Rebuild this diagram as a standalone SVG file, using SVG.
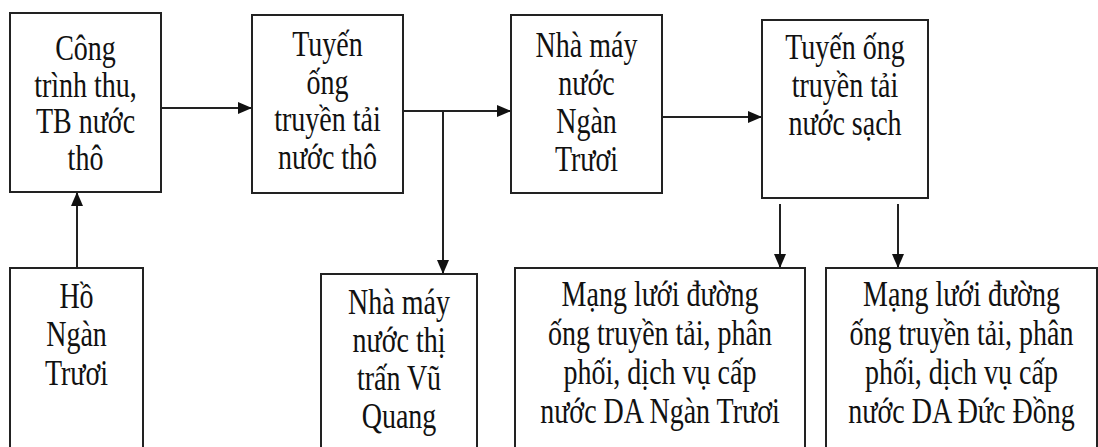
<svg xmlns="http://www.w3.org/2000/svg" width="1098" height="447" viewBox="0 0 1098 447">
<style>
.box{fill:#fff;stroke:#222;stroke-width:2}
.t{font-family:"Liberation Serif","Times New Roman",serif;font-size:35px;fill:#111;text-anchor:middle}
.c{fill:none;stroke:#222;stroke-width:2}
</style>
<defs>
<marker id="ah" viewBox="0 0 14 12" refX="14" refY="6" markerWidth="14" markerHeight="12" markerUnits="userSpaceOnUse" orient="auto">
<path d="M0,0 L14,6 L0,12 Z" fill="#111"/>
</marker>
</defs>
<rect width="1098" height="447" fill="#fff"/>
<g id="connectors">
<line class="c" x1="161" y1="108" x2="252" y2="108" marker-end="url(#ah)"/>
<line class="c" x1="403" y1="111" x2="511" y2="111" marker-end="url(#ah)"/>
<line class="c" x1="443" y1="111" x2="443" y2="274" marker-end="url(#ah)"/>
<line class="c" x1="662" y1="117" x2="762" y2="117" marker-end="url(#ah)"/>
<line class="c" x1="77" y1="268" x2="77" y2="192" marker-end="url(#ah)"/>
<line class="c" x1="780" y1="204" x2="780" y2="268" marker-end="url(#ah)"/>
<line class="c" x1="898" y1="204" x2="898" y2="268" marker-end="url(#ah)"/>
</g>
<g id="n1">
<rect class="box" x="10" y="13" width="151" height="179"/>
<text class="t" transform="translate(85.5,60) scale(0.8,1)">Công</text>
<text class="t" transform="translate(85.5,96.5) scale(0.8,1)">trình thu,</text>
<text class="t" transform="translate(85.5,133) scale(0.8,1)">TB nước</text>
<text class="t" transform="translate(85.5,169.5) scale(0.8,1)">thô</text>
</g>
<g id="n2">
<rect class="box" x="252" y="15" width="151" height="178"/>
<text class="t" transform="translate(327.5,56) scale(0.8,1)">Tuyến</text>
<text class="t" transform="translate(327.5,93.5) scale(0.8,1)">ống</text>
<text class="t" transform="translate(327.5,131) scale(0.8,1)">truyền tải</text>
<text class="t" transform="translate(327.5,168.5) scale(0.8,1)">nước thô</text>
</g>
<g id="n3">
<rect class="box" x="511" y="15" width="151" height="178"/>
<text class="t" transform="translate(586.5,57) scale(0.8,1)">Nhà máy</text>
<text class="t" transform="translate(586.5,95) scale(0.8,1)">nước</text>
<text class="t" transform="translate(586.5,133) scale(0.8,1)">Ngàn</text>
<text class="t" transform="translate(586.5,171) scale(0.8,1)">Trươi</text>
</g>
<g id="n4">
<rect class="box" x="762" y="20" width="166" height="178"/>
<text class="t" transform="translate(845,59) scale(0.8,1)">Tuyến ống</text>
<text class="t" transform="translate(845,97) scale(0.8,1)">truyền tải</text>
<text class="t" transform="translate(845,135) scale(0.8,1)">nước sạch</text>
</g>
<g id="n5">
<rect class="box" x="10" y="268" width="133" height="200"/>
<text class="t" transform="translate(76.5,308) scale(0.8,1)">Hồ</text>
<text class="t" transform="translate(76.5,346) scale(0.8,1)">Ngàn</text>
<text class="t" transform="translate(76.5,385) scale(0.8,1)">Trươi</text>
</g>
<g id="n6">
<rect class="box" x="321" y="274" width="156" height="200"/>
<text class="t" transform="translate(399,314) scale(0.8,1)">Nhà máy</text>
<text class="t" transform="translate(399,352) scale(0.8,1)">nước thị</text>
<text class="t" transform="translate(399,390) scale(0.8,1)">trấn Vũ</text>
<text class="t" transform="translate(399,428) scale(0.8,1)">Quang</text>
</g>
<g id="n7">
<rect class="box" x="515" y="268" width="290" height="200"/>
<text class="t" transform="translate(660,306) scale(0.8,1)">Mạng lưới đường</text>
<text class="t" transform="translate(660,345) scale(0.8,1)">ống truyền tải, phân</text>
<text class="t" transform="translate(660,384) scale(0.8,1)">phối, dịch vụ cấp</text>
<text class="t" transform="translate(660,423) scale(0.8,1)">nước DA Ngàn Trươi</text>
</g>
<g id="n8">
<rect class="box" x="826" y="268" width="271" height="200"/>
<text class="t" transform="translate(961.5,306) scale(0.8,1)">Mạng lưới đường</text>
<text class="t" transform="translate(961.5,345) scale(0.8,1)">ống truyền tải, phân</text>
<text class="t" transform="translate(961.5,384) scale(0.8,1)">phối, dịch vụ cấp</text>
<text class="t" transform="translate(961.5,423) scale(0.8,1)">nước DA Đức Đồng</text>
</g>
</svg>
